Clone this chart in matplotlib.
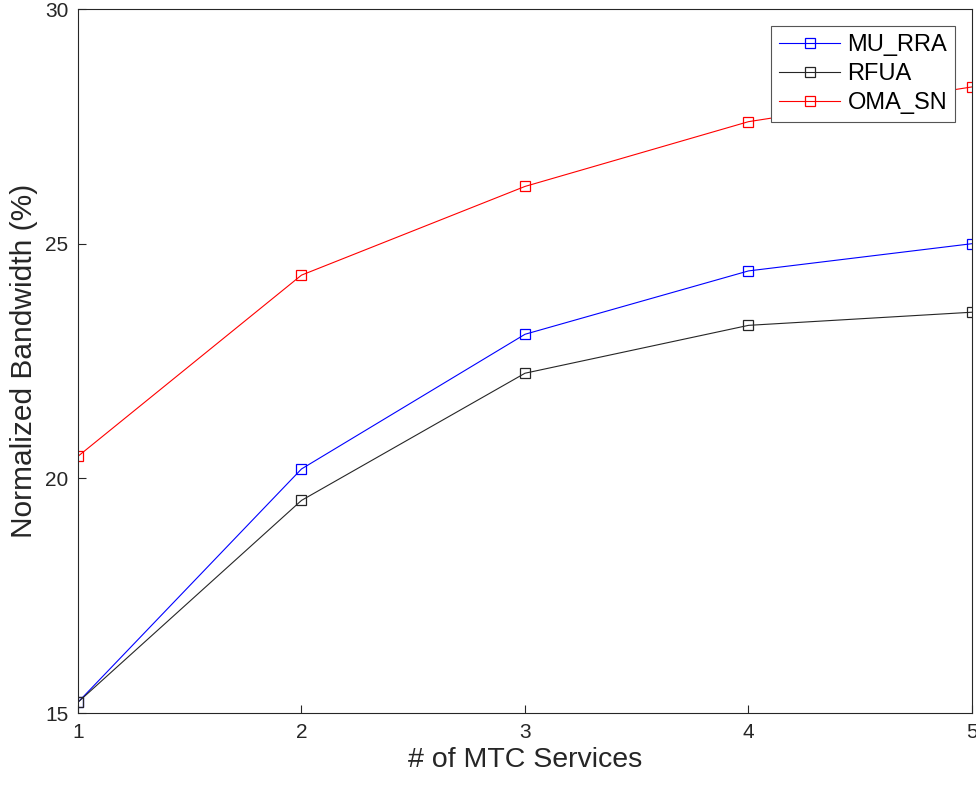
import matplotlib
matplotlib.use('Agg')
import matplotlib.pyplot as plt

services = [1, 2, 3, 4, 5]
mu_rra = [15.23, 20.2, 23.07, 24.42, 25.0]
rfua = [15.23, 19.53, 22.24, 23.26, 23.54]
oma_sn = [20.47, 24.33, 26.22, 27.6, 28.34]

plt.rcParams['font.family'] = ['Liberation Sans', 'DejaVu Sans']

fig = plt.figure(figsize=(9.76, 7.85), dpi=100)
ax = fig.add_axes([0.0799, 0.0917, 0.916, 0.8968])

style = dict(marker='s', markersize=7.8, markerfacecolor='none', linewidth=0.8, markeredgewidth=0.9)
ax.plot(services, mu_rra, color='#0000ff', label='MU_RRA', **style)
ax.plot(services, rfua, color='#262626', label='RFUA', **style)
ax.plot(services, oma_sn, color='#ff0000', label='OMA_SN', **style)

ax.set_xlim(1, 5)
ax.set_ylim(15, 30)
ax.set_xticks(services)
ax.set_yticks([15, 20, 25, 30])
ax.tick_params(direction='in', length=6, width=0.8, labelsize=15, colors='#262626',
               labelcolor='#262626', pad=7)
for s in ax.spines.values():
    s.set_color('#262626')
    s.set_linewidth(0.8)

ax.set_xlabel('# of MTC Services', fontsize=20.5, color='#262626', labelpad=4)
ax.set_ylabel('Normalized Bandwidth (%)', fontsize=21.5, color='#262626', labelpad=5)

leg = ax.legend(loc='upper right', fontsize=17, fancybox=False, framealpha=1,
                edgecolor='#555555', borderaxespad=0.7, handlelength=2.6,
                handletextpad=0.3, borderpad=0.35, labelspacing=0.3)
leg.get_frame().set_linewidth(0.8)

fig.savefig('out.png', dpi=100)
